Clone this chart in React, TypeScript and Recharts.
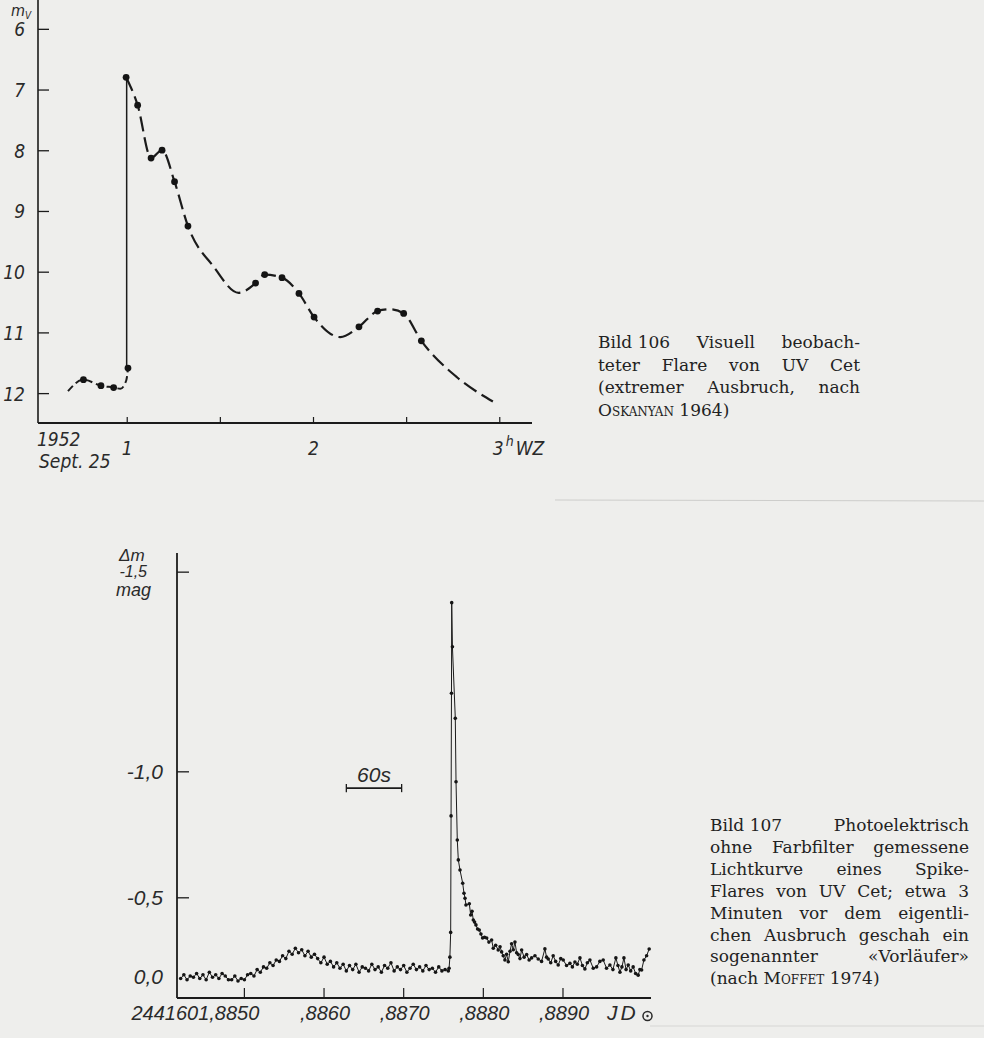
import React from 'react';
import { ComposedChart, Line, Scatter, XAxis, YAxis, ReferenceLine } from 'recharts';

// ---------- Bild 106: visual light curve of UV Cet (m_V vs. hours WZ) ----------
const preFlareTime = [0.682, 0.765, 0.859, 0.927, 0.963, 0.995, 1.004];
const preFlareMag = [11.96, 11.77, 11.87, 11.9, 11.92, 11.78, 11.58];
const jumpTime = [0.997, 0.997];
const jumpMag = [11.58, 6.79];
const decayTime = [0.994, 1.056, 1.128, 1.187, 1.254, 1.326, 1.464, 1.598, 1.689, 1.738, 1.831, 1.922, 2.003, 2.144, 2.244, 2.344, 2.413, 2.484, 2.579, 2.77, 2.963];
const decayMag = [6.79, 7.25, 8.12, 7.99, 8.51, 9.24, 9.91, 10.34, 10.18, 10.04, 10.09, 10.35, 10.74, 11.07, 10.9, 10.64, 10.61, 10.68, 11.13, 11.73, 12.13];
const obsTime = [0.765, 0.859, 0.927, 1.004, 0.994, 1.056, 1.128, 1.187, 1.254, 1.326, 1.689, 1.738, 1.831, 1.922, 2.003, 2.244, 2.344, 2.484, 2.579];
const obsMag = [11.77, 11.87, 11.9, 11.58, 6.79, 7.25, 8.12, 7.99, 8.51, 9.24, 10.18, 10.04, 10.09, 10.35, 10.74, 10.9, 10.64, 10.68, 11.13];
const topTimeTicks = [1, 1.5, 2, 2.5, 3];
const topTimeLabels = ['1', '', '2', '', '3'];
const topMagTicks = [6, 7, 8, 9, 10, 11, 12];

// ---------- Bild 107: photoelectric light curve (Δm vs. JD 2441601,...) ----------
const bottomTime = [
  0.8842, 0.88424, 0.88428, 0.88432, 0.88436, 0.8844, 0.88444, 0.88448, 0.88452, 0.88456, 0.8846, 0.88464, 0.88468, 0.88472, 0.88476, 0.8848,
  0.88484, 0.88488, 0.88492, 0.88496, 0.885, 0.88504,
  0.88508, 0.88512, 0.88516, 0.8852, 0.88524, 0.88528, 0.88532, 0.88536, 0.8854, 0.88544,
  0.88548, 0.88552, 0.88556, 0.8856, 0.88564, 0.88568,
  0.88572, 0.88576, 0.8858, 0.88584, 0.88588,
  0.88592, 0.88596, 0.886, 0.88604, 0.88608, 0.88612, 0.88616, 0.8862, 0.88624,
  0.88628, 0.88632, 0.88636, 0.8864, 0.88644, 0.88648, 0.88652, 0.88656, 0.8866, 0.88664, 0.88668, 0.88672, 0.88676, 0.8868, 0.88684, 0.88688,
  0.88692, 0.88696, 0.887, 0.88704, 0.88708, 0.88712, 0.88716, 0.8872, 0.88724, 0.88728, 0.88732, 0.88736, 0.8874, 0.88744, 0.88748, 0.88752,
  0.88756,
  0.88757, 0.88758, 0.88759, 0.887595, 0.8876, 0.887603, 0.887612, 0.887648, 0.887657, 0.887673, 0.887686, 0.887707, 0.887741, 0.887757, 0.88777, 0.887782,
  0.887824, 0.887841, 0.887858, 0.887874, 0.88789, 0.887907, 0.887928, 0.887949, 0.88797, 0.887991, 0.888015, 0.888042, 0.88807, 0.888104, 0.888125, 0.888155,
  0.888187, 0.88821, 0.88823, 0.88825, 0.888271, 0.888292, 0.888313, 0.888335, 0.888355, 0.888376, 0.888397, 0.888418, 0.888438, 0.88846, 0.888481, 0.888512,
  0.888544, 0.888575, 0.888606, 0.888648, 0.888689, 0.888731, 0.888773, 0.888794, 0.888815, 0.888846, 0.888877, 0.888908, 0.88894, 0.888972, 0.889003, 0.889045,
  0.889087, 0.889118, 0.88915, 0.88918, 0.889213, 0.889244, 0.889275, 0.889306, 0.889338, 0.88938, 0.889422, 0.889463, 0.889505, 0.889547, 0.889589, 0.889627,
  0.889664, 0.88969, 0.889715, 0.88974, 0.889765, 0.889792, 0.889819, 0.88985, 0.889881, 0.889912, 0.889944, 0.889965, 0.889987, 0.890016, 0.89005, 0.890082,
];
const bottomDm = [
  0.01, -0.02, 0.02, -0.01, 0.0, -0.03, 0.01, -0.02, 0.02, -0.04, 0.0, -0.02, 0.01, -0.03, -0.01, 0.02,
  0.02, -0.01, 0.03, 0.01, 0.02, -0.02,
  -0.03, -0.01, -0.06, -0.04, -0.08, -0.07, -0.11, -0.09, -0.13, -0.12,
  -0.16, -0.14, -0.19, -0.17, -0.21, -0.18,
  -0.2, -0.16, -0.19, -0.15, -0.17,
  -0.14, -0.11, -0.15, -0.1, -0.12, -0.08, -0.11, -0.07, -0.1,
  -0.05, -0.09, -0.06, -0.1, -0.04, -0.08, -0.07, -0.05, -0.1, -0.06, -0.08, -0.04, -0.09, -0.07, -0.11, -0.05,
  -0.08, -0.06, -0.09, -0.04, -0.07, -0.1, -0.06, -0.08, -0.05, -0.09, -0.06, -0.07, -0.04, -0.08, -0.05, -0.06,
  -0.05,
  -0.07, -0.15, -0.31, -0.85, -1.225, -1.437, -1.339, -1.158, -0.968, -0.758, -0.676, -0.632, -0.571, -0.523, -0.498, -0.463,
  -0.47, -0.41, -0.43, -0.382, -0.37, -0.354, -0.33, -0.324, -0.3, -0.276, -0.28, -0.276, -0.25, -0.263, -0.21, -0.23,
  -0.199, -0.22, -0.186, -0.16, -0.13, -0.17, -0.118, -0.19, -0.24, -0.2, -0.25, -0.18, -0.168, -0.14, -0.199, -0.15,
  -0.168, -0.13, -0.145, -0.16, -0.137, -0.12, -0.206, -0.15, -0.137, -0.11, -0.16, -0.12, -0.094, -0.14, -0.13, -0.09,
  -0.106, -0.08, -0.116, -0.1, -0.145, -0.09, -0.065, -0.11, -0.13, -0.07, -0.08, -0.12, -0.13, -0.07, -0.094, -0.06,
  -0.145, -0.09, -0.04, -0.08, -0.145, -0.06, -0.094, -0.05, -0.08, -0.03, -0.017, -0.06, -0.057, -0.13, -0.16, -0.205,
];
const bottomTickDm = [-1.5, -1.0, -0.5, 0.0];
const bottomTickLabels = ['-1,5', '-1,0', '-0,5', '0,0'];
const bottomTimeTicks = [0.885, 0.886, 0.887, 0.888, 0.889];
const bottomTimeLabels = ['2441601,8850', ',8860', ',8870', ',8880', ',8890'];
const scaleBarStart = 0.88628;
const scaleBarSeconds = 60;
const scaleBarDm = -0.947;

// the magnitude axis of Bild 107 is linear in intensity
const flux = (dm: number) => Math.pow(10, -0.4 * dm);

const zip = (ts: number[], vs: number[]) => ts.map((t, i) => ({ t, v: vs[i] }));
const preFlare = zip(preFlareTime, preFlareMag);
const jump = zip(jumpTime, jumpMag);
const decay = zip(decayTime, decayMag);
const obs = zip(obsTime, obsMag);
const bottomData = bottomTime.map((t, i) => ({ t, v: flux(bottomDm[i]) }));
const bottomTicks = bottomTickDm.map(flux);
const barEnd = scaleBarStart + scaleBarSeconds / 86400;

const INK = '#1b1b1b';
const TXT = '#2a2a2a';
const NARROW = '"Liberation Sans Narrow", "DejaVu Sans Condensed", "Liberation Sans", sans-serif';
const SANS = '"Liberation Sans", Arial, sans-serif';
const SERIF = '"DejaVu Serif", "Liberation Serif", serif';

const TopXTick = (props: any) => {
  const { x, y, payload } = props;
  const idx = topTimeTicks.indexOf(payload.value);
  const label = topTimeLabels[idx];
  return (
    <g>
      <line x1={x} x2={x} y1={y} y2={y - 6} stroke={INK} strokeWidth={1.2} />
      {label === '3' ? (
        <text x={x - 7} y={y + 32} fontFamily={NARROW} fontStyle="italic" fontSize={19} fill={TXT}>
          3<tspan dy={-9} fontSize={14} dx={2}>h</tspan><tspan dy={9} dx={2}>WZ</tspan>
        </text>
      ) : label ? (
        <text x={x} y={y + 32} textAnchor="middle" fontFamily={NARROW} fontStyle="italic" fontSize={19} fill={TXT}>
          {label}
        </text>
      ) : null}
    </g>
  );
};

const TopYTick = (props: any) => {
  const { x, y, payload } = props;
  return (
    <g>
      <line x1={x} x2={x + 11} y1={y} y2={y} stroke={INK} strokeWidth={1.3} />
      <text x={x - 13} y={y + 7} textAnchor="end" fontFamily={NARROW} fontStyle="italic" fontSize={19} fill={TXT}>
        {payload.value}
      </text>
    </g>
  );
};

const BottomXTick = (props: any) => {
  const { x, y, payload } = props;
  const idx = bottomTimeTicks.findIndex((v) => Math.abs(v - payload.value) < 1e-7);
  const label = bottomTimeLabels[idx];
  return (
    <g>
      <line x1={x} x2={x} y1={y} y2={y - 10} stroke={INK} strokeWidth={1.2} />
      <text
        x={idx === 0 ? x + 15 : x + 1}
        y={y + 22}
        textAnchor={idx === 0 ? 'end' : 'middle'}
        fontFamily={SANS}
        fontStyle="italic"
        fontSize={20}
        fill={TXT}
      >
        {label}
      </text>
    </g>
  );
};

const BottomYTick = (props: any) => {
  const { x, y, payload } = props;
  const idx = bottomTicks.findIndex((v) => Math.abs(v - payload.value) < 1e-6);
  const label = bottomTickLabels[idx];
  const isTop = idx === 0;
  const isZero = idx === bottomTicks.length - 1;
  return (
    <g>
      {!isZero && <line x1={x} x2={x + 12} y1={y} y2={y} stroke={INK} strokeWidth={1.3} />}
      <text
        x={isTop ? x - 30 : x - 14}
        y={isTop ? y + 5 : y + 7}
        textAnchor="end"
        fontFamily={SANS}
        fontStyle="italic"
        fontSize={isTop ? 16 : 21}
        fill={TXT}
      >
        {label}
      </text>
    </g>
  );
};

const dotShape = (props: any) => <circle cx={props.cx} cy={props.cy} r={3.4} fill="#141414" />;

const TopChart = () => (
  <ComposedChart width={560} height={480} margin={{ top: 0, right: 28, bottom: 56, left: 37 }}>
    <XAxis
      type="number"
      dataKey="t"
      domain={[0.521, 3.173]}
      ticks={topTimeTicks}
      interval={0}
      allowDataOverflow
      height={1}
      tickLine={false}
      tickSize={0}
      tickMargin={0}
      tick={(p: any) => <TopXTick {...p} />}
      axisLine={{ stroke: INK, strokeWidth: 2 }}
    />
    <YAxis
      type="number"
      domain={[5.517, 12.484]}
      reversed
      ticks={topMagTicks}
      interval={0}
      allowDataOverflow
      width={1}
      tickLine={false}
      tickSize={0}
      tickMargin={0}
      tick={(p: any) => <TopYTick {...p} />}
      axisLine={{ stroke: INK, strokeWidth: 1.6 }}
    />
    <Line data={preFlare} dataKey="v" type="monotone" stroke={INK} strokeWidth={2} strokeDasharray="7 4" dot={false} isAnimationActive={false} />
    <Line data={jump} dataKey="v" type="linear" stroke={INK} strokeWidth={1.5} dot={false} isAnimationActive={false} />
    <Line data={decay} dataKey="v" type="monotone" stroke={INK} strokeWidth={2.2} strokeDasharray="15 6" dot={false} isAnimationActive={false} />
    <Scatter data={obs} dataKey="v" shape={dotShape} isAnimationActive={false} />
  </ComposedChart>
);

const BottomChart = () => (
  <ComposedChart width={700} height={498} margin={{ top: 13, right: 49, bottom: 39, left: 176 }}>
    <XAxis
      type="number"
      dataKey="t"
      domain={[0.884154, 0.890105]}
      ticks={bottomTimeTicks}
      interval={0}
      allowDataOverflow
      height={1}
      tickLine={false}
      tickSize={0}
      tickMargin={0}
      tick={(p: any) => <BottomXTick {...p} />}
      axisLine={{ stroke: INK, strokeWidth: 2 }}
    />
    <YAxis
      type="number"
      domain={[0.8477, 4.122]}
      ticks={bottomTicks}
      interval={0}
      allowDataOverflow
      width={1}
      tickLine={false}
      tickSize={0}
      tickMargin={0}
      tick={(p: any) => <BottomYTick {...p} />}
      axisLine={{ stroke: INK, strokeWidth: 1.8 }}
    />
    <ReferenceLine
      segment={[{ x: scaleBarStart, y: flux(scaleBarDm) }, { x: barEnd, y: flux(scaleBarDm) }]}
      stroke={INK}
      strokeWidth={1.6}
      label={{ value: '60s', position: 'top', offset: 6, fill: TXT, fontSize: 21, fontStyle: 'italic', fontFamily: SANS }}
    />
    <ReferenceLine segment={[{ x: scaleBarStart, y: flux(scaleBarDm) - 0.03 }, { x: scaleBarStart, y: flux(scaleBarDm) + 0.03 }]} stroke={INK} strokeWidth={1.3} />
    <ReferenceLine segment={[{ x: barEnd, y: flux(scaleBarDm) - 0.03 }, { x: barEnd, y: flux(scaleBarDm) + 0.03 }]} stroke={INK} strokeWidth={1.3} />
    <Line
      data={bottomData}
      dataKey="v"
      type="linear"
      stroke={INK}
      strokeWidth={1}
      dot={{ r: 1.8, fill: '#151515', stroke: 'none' }}
      isAnimationActive={false}
    />
  </ComposedChart>
);

const Keep = ({ children }: { children: React.ReactNode }) => (
  <span style={{ display: 'inline-block' }}>{children}</span>
);

const captionLine = (text: React.ReactNode, justify: boolean, key: number) => (
  <div key={key} style={{ textAlign: justify ? 'justify' : 'left', textAlignLast: justify ? 'justify' : 'left', whiteSpace: 'nowrap' } as React.CSSProperties}>
    {text}
  </div>
);

export default function App() {
  const caption1: React.ReactNode[] = [
    <>
      <Keep>Bild 106</Keep> Visuell beobach-
    </>,
    'teter Flare von UV Cet',
    '(extremer Ausbruch, nach',
    <span>
      <span style={{ fontVariant: 'small-caps' }}>Oskanyan</span> 1964)
    </span>,
  ];
  const caption2: React.ReactNode[] = [
    <>
      <Keep>Bild 107</Keep> Photoelektrisch
    </>,
    'ohne Farbfilter gemessene',
    'Lichtkurve eines Spike-',
    'Flares von UV Cet; etwa 3',
    'Minuten vor dem eigentli-',
    'chen Ausbruch geschah ein',
    'sogenannter «Vorläufer»',
    <span>
      (nach <span style={{ fontVariant: 'small-caps' }}>Moffet</span> 1974)
    </span>,
  ];
  return (
    <div style={{ position: 'absolute', left: 0, top: 0, width: 984, height: 1038, background: '#eeeeec', overflow: 'hidden' }}>
      <div style={{ position: 'absolute', left: 0, top: 0 }}>
        <TopChart />
      </div>
      <div style={{ position: 'absolute', left: 0, top: 540 }}>
        <BottomChart />
      </div>
      <svg width={984} height={1038} style={{ position: 'absolute', left: 0, top: 0, pointerEvents: 'none' }}>
        <line x1={555} x2={984} y1={500} y2={501} stroke="#cdcdcb" strokeWidth={1} />
        <line x1={650} x2={984} y1={1026} y2={1026} stroke="#d6d6d4" strokeWidth={1} />
        <text x={11} y={16} fontFamily={NARROW} fontStyle="italic" fontSize={16} fill={TXT}>m</text>
        <text x={25} y={19} fontFamily={NARROW} fontStyle="italic" fontSize={10} fill={TXT}>V</text>
        <text x={37} y={446} fontFamily={NARROW} fontStyle="italic" fontSize={19} fill={TXT}>1952</text>
        <text x={39} y={468} fontFamily={NARROW} fontStyle="italic" fontSize={19} fill={TXT}>Sept. 25</text>
        <text x={119} y={561} fontFamily={SANS} fontStyle="italic" fontSize={17} fill={TXT}>Δm</text>
        <text x={116} y={596} fontFamily={SANS} fontStyle="italic" fontSize={18} fill={TXT}>mag</text>
        <text x={607} y={1020} fontFamily={SANS} fontStyle="italic" fontSize={21} letterSpacing={3} fill={TXT}>JD</text>
        <circle cx={647.5} cy={1016} r={4.5} fill="none" stroke={TXT} strokeWidth={1.5} />
        <circle cx={647.5} cy={1016} r={1.2} fill={TXT} />
      </svg>
      <div style={{ position: 'absolute', left: 598, top: 331, width: 262, fontFamily: SERIF, fontSize: 17, lineHeight: '22.5px', color: '#222' }}>
        {caption1.map((c, i) => captionLine(c, i < caption1.length - 1, i))}
      </div>
      <div style={{ position: 'absolute', left: 710, top: 815, width: 259, fontFamily: SERIF, fontSize: 17, lineHeight: '21.9px', color: '#222' }}>
        {caption2.map((c, i) => captionLine(c, i < caption2.length - 1, i))}
      </div>
    </div>
  );
}
